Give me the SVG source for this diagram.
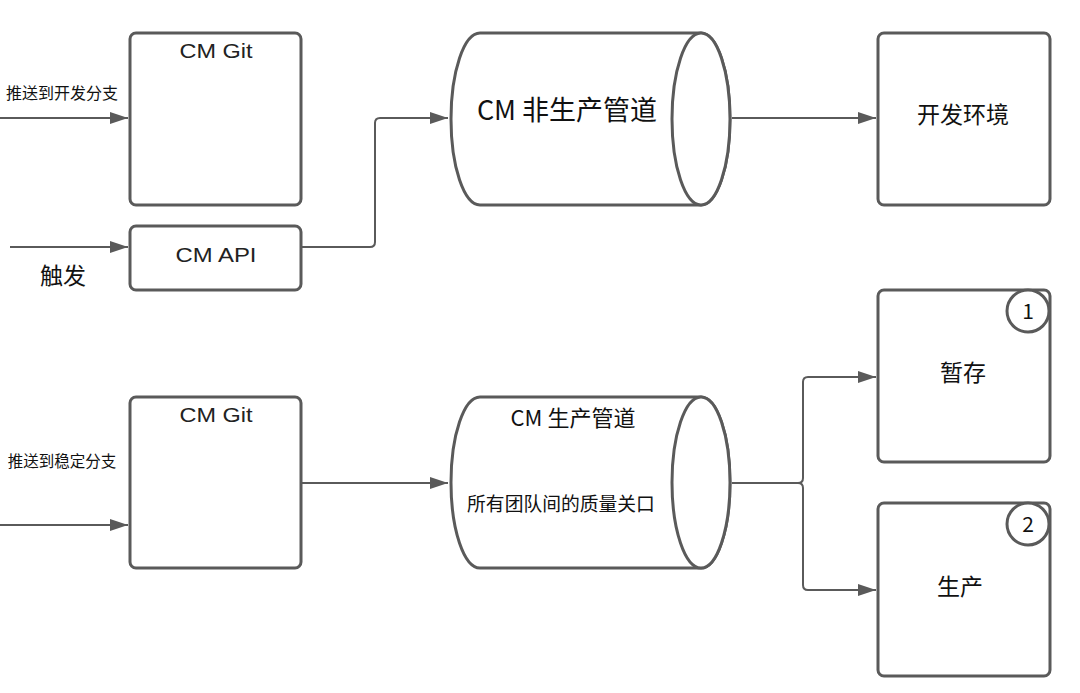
<svg xmlns="http://www.w3.org/2000/svg" width="1080" height="693" viewBox="0 0 1080 693">
<style>
.box{fill:#fff;stroke:#5a5a5a;stroke-width:3}
.cyl{fill:#fff;stroke:#5a5a5a;stroke-width:3}
.con{fill:none;stroke:#5a5a5a;stroke-width:2}
.en{font-family:"Liberation Sans",Arial,sans-serif;fill:#222;text-anchor:middle}
.zh{font-family:"Noto Sans CJK SC","Noto Sans",sans-serif;fill:#111;text-anchor:middle}
</style>
<defs>
<marker id="ah" markerWidth="18" markerHeight="12" refX="18" refY="6" orient="auto" markerUnits="userSpaceOnUse">
<path d="M0,0 L18,6 L0,12 Z" fill="#5a5a5a"/>
</marker>
</defs>
<rect width="1080" height="693" fill="#fff"/>
<g id="connectors">
<path class="con" d="M0,118 H128" marker-end="url(#ah)"/>
<path class="con" d="M10,247 H128" marker-end="url(#ah)"/>
<path class="con" d="M301,247 H370 Q375,247 375,242 V123 Q375,118 380,118 H448" marker-end="url(#ah)"/>
<path class="con" d="M732,118 H876" marker-end="url(#ah)"/>
<path class="con" d="M0,525 H128" marker-end="url(#ah)"/>
<path class="con" d="M301,483 H448" marker-end="url(#ah)"/>
<path class="con" d="M732,483 H798 Q803,483 803,478 V382 Q803,377 808,377 H876" marker-end="url(#ah)"/>
<path class="con" d="M798,483 Q803,483 803,488 V585 Q803,590 808,590 H876" marker-end="url(#ah)"/>
</g>
<g id="label-push-dev"><text class="zh" x="62" y="99" font-size="16">推送到开发分支</text></g>
<g id="label-trigger"><text class="zh" x="63" y="284" font-size="23">触发</text></g>
<g id="label-push-stable"><text class="zh" x="62" y="467" font-size="15.5">推送到稳定分支</text></g>
<g id="cm-git-top">
<rect class="box" x="130" y="33" width="171" height="172" rx="6"/>
<text class="en" x="216" y="58" font-size="21" textLength="73" lengthAdjust="spacingAndGlyphs">CM Git</text>
</g>
<g id="cm-api">
<rect class="box" x="130" y="226" width="171" height="64" rx="6"/>
<text class="en" x="216" y="262" font-size="21" textLength="81" lengthAdjust="spacingAndGlyphs">CM API</text>
</g>
<g id="nonprod-pipeline">
<path class="cyl" d="M480,33 H701 A29,86 0 0 1 701,205 H480 A29,86 0 0 1 480,33 Z"/>
<ellipse class="cyl" cx="701" cy="119" rx="29" ry="86"/>
<text class="zh" x="567" y="120" font-size="27">CM 非生产管道</text>
</g>
<g id="dev-env">
<rect class="box" x="878" y="33" width="172" height="172" rx="6"/>
<text class="zh" x="963" y="123" font-size="23">开发环境</text>
</g>
<g id="cm-git-bottom">
<rect class="box" x="130" y="397" width="171" height="171" rx="6"/>
<text class="en" x="216" y="422" font-size="21" textLength="73" lengthAdjust="spacingAndGlyphs">CM Git</text>
</g>
<g id="prod-pipeline">
<path class="cyl" d="M480,397 H701 A29,85.5 0 0 1 701,568 H480 A29,85.5 0 0 1 480,397 Z"/>
<ellipse class="cyl" cx="701" cy="482.5" rx="29" ry="85.5"/>
<text class="zh" x="573" y="426" font-size="22">CM 生产管道</text>
<text class="zh" x="561" y="511" font-size="18.8">所有团队间的质量关口</text>
</g>
<g id="staging">
<rect class="box" x="878" y="290" width="172" height="172" rx="6"/>
<circle cx="1028" cy="311" r="21" fill="#fff" stroke="#5a5a5a" stroke-width="3"/>
<text class="zh" x="1028" y="319" font-size="21">1</text>
<text class="zh" x="963" y="381" font-size="23">暂存</text>
</g>
<g id="production">
<rect class="box" x="878" y="503" width="172" height="173" rx="6"/>
<circle cx="1028" cy="524" r="21" fill="#fff" stroke="#5a5a5a" stroke-width="3"/>
<text class="zh" x="1028" y="532" font-size="21">2</text>
<text class="zh" x="960" y="595" font-size="23">生产</text>
</g>
</svg>
